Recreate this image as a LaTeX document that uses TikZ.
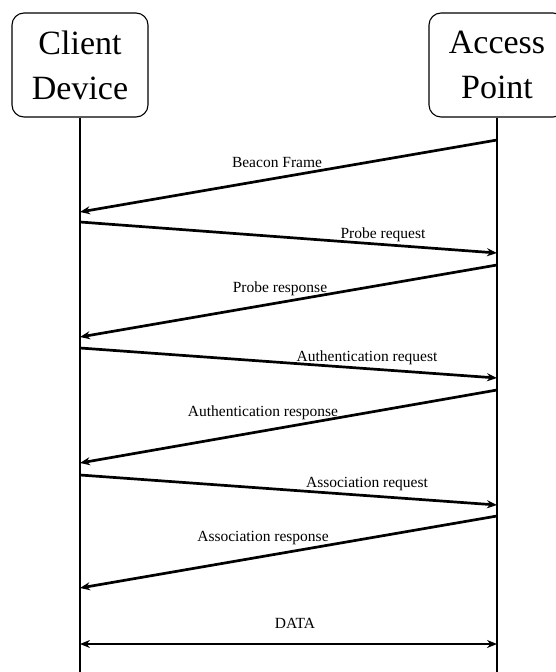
\documentclass[tikz,border=0pt]{standalone}
\usepackage{fontspec}
\setmainfont{Liberation Serif}
\usetikzlibrary{arrows.meta}
\begin{document}
\begin{tikzpicture}[x=1pt,y=-1pt,
  actor/.style={draw, line width=1.1pt, rounded corners=12pt,
    minimum width=136pt, minimum height=104pt, inner sep=0pt,
    align=center, font=\fontsize{34}{45}\selectfont},
  life/.style={line width=1.5pt},
  tip/.tip={Stealth[length=10pt,width=8pt]},
  msg/.style={line width=2.7pt, -tip},
  both/.style={line width=2.7pt, tip-tip},
  lbl/.style={font=\fontsize{15.5}{18}\selectfont, inner sep=0pt, anchor=base}]
\useasboundingbox (0,0) rectangle (555,672);

% participants
\node[actor] (client) at (80,65) {Client\\Device};
\node[actor] (ap) at (497,65) {Access\\Point};

% lifelines
\coordinate (cend) at (80,672);
\coordinate (aend) at (497,672);
\draw[life] (client.south) -- (cend);
\draw[life] (ap.south) -- (aend);

% message end points on the lifelines
\coordinate (a1) at (497,140);  \coordinate (c1) at (80,212);
\coordinate (c2) at (80,222);   \coordinate (a2) at (497,253);
\coordinate (a3) at (497,265);  \coordinate (c3) at (80,337);
\coordinate (c4) at (80,348);   \coordinate (a4) at (497,378);
\coordinate (a5) at (497,390);  \coordinate (c5) at (80,463);
\coordinate (c6) at (80,475);   \coordinate (a6) at (497,505);
\coordinate (a7) at (497,516);  \coordinate (c7) at (80,588);
\coordinate (c8) at (80,644);   \coordinate (a8) at (497,644);

% messages
\draw[msg] (a1) -- (c1);
\draw[msg] (c2) -- (a2);
\draw[msg] (a3) -- (c3);
\draw[msg] (c4) -- (a4);
\draw[msg] (a5) -- (c5);
\draw[msg] (c6) -- (a6);
\draw[msg] (a7) -- (c7);
\draw[both] (c8) -- (a8);

% message labels
\node[lbl] (l1) at (277,167) {Beacon Frame};
\node[lbl] (l2) at (383,238) {Probe request};
\node[lbl] (l3) at (280,292) {Probe response};
\node[lbl] (l4) at (367,361) {Authentication request};
\node[lbl] (l5) at (263,416) {Authentication response};
\node[lbl] (l6) at (367,487) {Association request};
\node[lbl] (l7) at (263,541) {Association response};
\node[lbl] (l8) at (295,628) {DATA};
\end{tikzpicture}
\end{document}
